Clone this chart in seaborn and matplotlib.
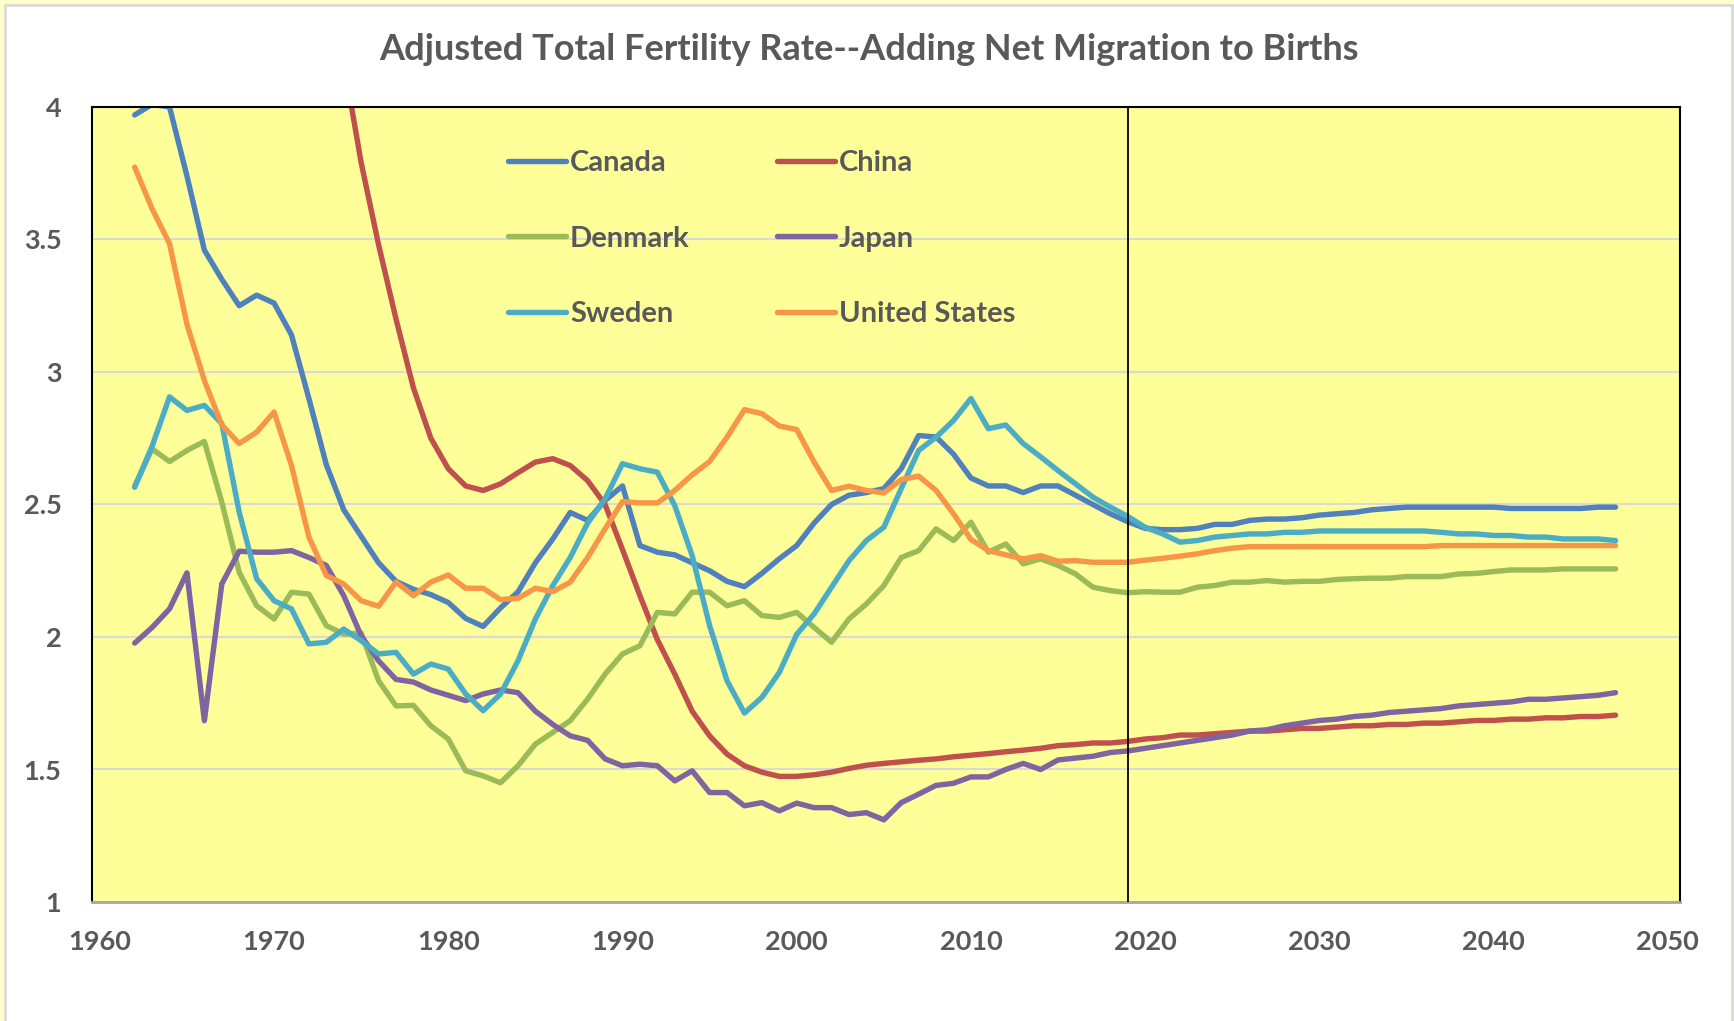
"""Adjusted total fertility rate (births plus net migration) for six countries."""
import matplotlib.pyplot as plt
import numpy as np
import pandas as pd
import seaborn as sns
from matplotlib.lines import Line2D
from matplotlib.patches import Rectangle

YEARS = list(range(1962, 2048))
COUNTRIES = ["Canada", "China", "Denmark", "Japan", "Sweden", "United States"]
COLORS = ["#4F81BD", "#C0504D", "#9BBB59", "#8064A2", "#4BACC6", "#F79646"]
PROJECTION_START = 2019

canada = [
    3.97, 4.01, 4.00, 3.74, 3.46, 3.35, 3.25, 3.29, 3.26, 3.14,
    2.90, 2.65, 2.48, 2.38, 2.28, 2.21, 2.18, 2.16, 2.13, 2.07,
    2.04, 2.11, 2.17, 2.28, 2.37, 2.47, 2.44, 2.515, 2.57, 2.345,
    2.32, 2.31, 2.28, 2.25, 2.21, 2.19, 2.24, 2.295, 2.345, 2.43,
    2.50, 2.535, 2.545, 2.56, 2.635, 2.76, 2.755, 2.69, 2.60, 2.57,
    2.57, 2.545, 2.57, 2.57, 2.535, 2.50, 2.465, 2.435, 2.41, 2.405,
    2.405, 2.41, 2.425, 2.425, 2.44, 2.445, 2.445, 2.45, 2.46, 2.465,
    2.47, 2.48, 2.485, 2.49, 2.49, 2.49, 2.49, 2.49, 2.49, 2.485,
    2.485, 2.485, 2.485, 2.485, 2.49, 2.49,
]
china = [
    6.0, 7.5, 6.2, 6.1, 6.3, 5.3, 6.4, 5.7, 5.8, 5.4,
    5.0, 4.5, 4.17, 3.79, 3.48, 3.20, 2.94, 2.75, 2.635, 2.57,
    2.553, 2.578, 2.62, 2.66, 2.673, 2.647, 2.59, 2.50, 2.33, 2.156,
    1.99, 1.86, 1.72, 1.627, 1.558, 1.514, 1.49, 1.474, 1.474, 1.48,
    1.49, 1.504, 1.516, 1.523, 1.529, 1.535, 1.54, 1.548, 1.554, 1.56,
    1.567, 1.573, 1.58, 1.59, 1.594, 1.60, 1.60, 1.606, 1.615, 1.62,
    1.63, 1.63, 1.635, 1.64, 1.645, 1.645, 1.65, 1.655, 1.655, 1.66,
    1.665, 1.665, 1.67, 1.67, 1.675, 1.675, 1.68, 1.685, 1.685, 1.69,
    1.69, 1.695, 1.695, 1.70, 1.70, 1.705,
]
denmark = [
    2.57, 2.71, 2.662, 2.704, 2.738, 2.509, 2.244, 2.118, 2.068, 2.169,
    2.162, 2.043, 2.011, 2.015, 1.835, 1.74, 1.742, 1.665, 1.615, 1.495,
    1.476, 1.45, 1.514, 1.596, 1.64, 1.684, 1.766, 1.86, 1.936, 1.967,
    2.093, 2.087, 2.169, 2.169, 2.118, 2.137, 2.081, 2.074, 2.093, 2.036,
    1.98, 2.068, 2.125, 2.194, 2.30, 2.326, 2.408, 2.364, 2.433, 2.32,
    2.351, 2.276, 2.295, 2.27, 2.238, 2.188, 2.175, 2.167, 2.171, 2.169,
    2.169, 2.188, 2.194, 2.207, 2.207, 2.213, 2.207, 2.21, 2.21, 2.217,
    2.22, 2.222, 2.222, 2.228, 2.228, 2.228, 2.238, 2.24, 2.247, 2.253,
    2.253, 2.253, 2.257, 2.257, 2.257, 2.257,
]
japan = [
    1.977, 2.036, 2.106, 2.242, 1.684, 2.20, 2.324, 2.32, 2.32, 2.326,
    2.30, 2.27, 2.156, 2.005, 1.91, 1.84, 1.83, 1.80, 1.78, 1.76,
    1.785, 1.80, 1.79, 1.72, 1.67, 1.627, 1.61, 1.54, 1.514, 1.52,
    1.514, 1.457, 1.495, 1.413, 1.413, 1.363, 1.375, 1.344, 1.373, 1.356,
    1.356, 1.33, 1.337, 1.31, 1.375, 1.407, 1.44, 1.448, 1.472, 1.472,
    1.50, 1.523, 1.50, 1.536, 1.543, 1.55, 1.564, 1.57, 1.58, 1.59,
    1.60, 1.61, 1.62, 1.63, 1.645, 1.65, 1.665, 1.675, 1.685, 1.69,
    1.70, 1.705, 1.715, 1.72, 1.725, 1.73, 1.74, 1.745, 1.75, 1.755,
    1.765, 1.765, 1.77, 1.775, 1.78, 1.79,
]
sweden = [
    2.565, 2.72, 2.906, 2.855, 2.874, 2.805, 2.471, 2.22, 2.137, 2.106,
    1.974, 1.98, 2.03, 1.986, 1.936, 1.942, 1.86, 1.898, 1.879, 1.785,
    1.722, 1.785, 1.91, 2.068, 2.194, 2.30, 2.43, 2.521, 2.654, 2.635,
    2.622, 2.496, 2.307, 2.043, 1.835, 1.713, 1.772, 1.866, 2.01, 2.087,
    2.188, 2.288, 2.364, 2.414, 2.56, 2.704, 2.754, 2.817, 2.90, 2.786,
    2.80, 2.73, 2.68, 2.628, 2.578, 2.528, 2.49, 2.455, 2.414, 2.389,
    2.358, 2.364, 2.377, 2.383, 2.389, 2.389, 2.395, 2.395, 2.40, 2.40,
    2.40, 2.40, 2.40, 2.40, 2.40, 2.395, 2.389, 2.389, 2.383, 2.383,
    2.377, 2.377, 2.37, 2.37, 2.37, 2.364,
]
united_states = [
    3.773, 3.616, 3.484, 3.18, 2.968, 2.80, 2.73, 2.773, 2.849, 2.647,
    2.377, 2.232, 2.20, 2.137, 2.116, 2.207, 2.156, 2.207, 2.234, 2.184,
    2.184, 2.141, 2.146, 2.184, 2.171, 2.207, 2.30, 2.408, 2.511, 2.506,
    2.506, 2.553, 2.612, 2.662, 2.754, 2.858, 2.843, 2.796, 2.783, 2.66,
    2.553, 2.569, 2.553, 2.544, 2.594, 2.607, 2.553, 2.465, 2.368, 2.326,
    2.31, 2.295, 2.307, 2.286, 2.288, 2.282, 2.282, 2.282, 2.29, 2.297,
    2.305, 2.314, 2.326, 2.335, 2.341, 2.341, 2.341, 2.341, 2.341, 2.341,
    2.341, 2.341, 2.341, 2.341, 2.341, 2.345, 2.345, 2.345, 2.345, 2.345,
    2.345, 2.345, 2.345, 2.345, 2.345, 2.345,
]

Y_TICKS = [1, 1.5, 2, 2.5, 3, 3.5, 4]
X_TICKS = list(range(1960, 2051, 10))

TEXT_GREY = "#595959"
LINE_W = 3.9

sns.set_style("white")
plt.rcParams["font.family"] = ["Lato", "DejaVu Sans"]
plt.rcParams["font.weight"] = "bold"

series = [canada, china, denmark, japan, sweden, united_states]
df = pd.DataFrame({
    "year": np.tile(YEARS, len(COUNTRIES)),
    "tfr": np.concatenate(series),
    "country": np.repeat(COUNTRIES, len(YEARS)),
})
palette = dict(zip(COUNTRIES, COLORS))

fig = plt.figure(figsize=(17.34, 10.21), dpi=100, facecolor="#FFFFCC")
fig.add_artist(Rectangle((5 / 1734, -0.02), 1727 / 1734, 1.02 - 5 / 1021,
                         transform=fig.transFigure, facecolor="white",
                         edgecolor="#D9D9D9", lw=2, zorder=-1))
ax = fig.add_axes([92 / 1734, 1 - 902 / 1021, 1588 / 1734, 795 / 1021])
ax.set_facecolor("#FFFF99")

sns.lineplot(data=df, x="year", y="tfr", hue="country", hue_order=COUNTRIES,
             palette=palette, linewidth=LINE_W, estimator=None, sort=False,
             legend=False, ax=ax, solid_capstyle="round", solid_joinstyle="round")

ax.axvline(PROJECTION_START, color="black", lw=1.3, zorder=4)

ax.set_xlim(1959.55, 2050.7)
ax.set_ylim(1, 4)
ax.set_xticks(X_TICKS)
ax.set_yticks(Y_TICKS)
ax.set_yticklabels([f"{v:g}" for v in Y_TICKS])
ax.tick_params(axis="both", length=0, labelsize=19.5, labelcolor=TEXT_GREY)
ax.tick_params(axis="y", pad=22)
ax.tick_params(axis="x", pad=20)
for lab in ax.get_xticklabels() + ax.get_yticklabels():
    lab.set_fontweight("bold")
ax.set_xlabel("")
ax.set_ylabel("")
ax.yaxis.grid(True, color="#D9D9D9", lw=1.5)
ax.set_axisbelow(True)

for side in ("left", "top", "right"):
    ax.spines[side].set_color("black")
    ax.spines[side].set_linewidth(1.5)
ax.spines["bottom"].set_color("#A6A6A6")
ax.spines["bottom"].set_linewidth(2)

# legend fills column-first, so order handles to read across rows
order = [0, 2, 4, 1, 3, 5]
handles = [Line2D([], [], color=COLORS[i], lw=LINE_W, solid_capstyle="round") for i in order]
labels = [COUNTRIES[i] for i in order]
ax.legend(handles, labels, ncol=2, frameon=False, loc="upper left",
          bbox_to_anchor=(0.262, 0.946), borderaxespad=0, borderpad=0,
          labelcolor=TEXT_GREY, handlelength=2.0,
          handletextpad=0.12, columnspacing=3.0, labelspacing=1.7,
          prop={"weight": "bold", "size": 21})

fig.text(0.501, 0.952, "Adjusted Total Fertility Rate--Adding Net Migration to Births",
         ha="center", va="center", fontsize=26, fontweight="bold", color=TEXT_GREY)

fig.savefig("out.png", dpi=100, facecolor=fig.get_facecolor())
